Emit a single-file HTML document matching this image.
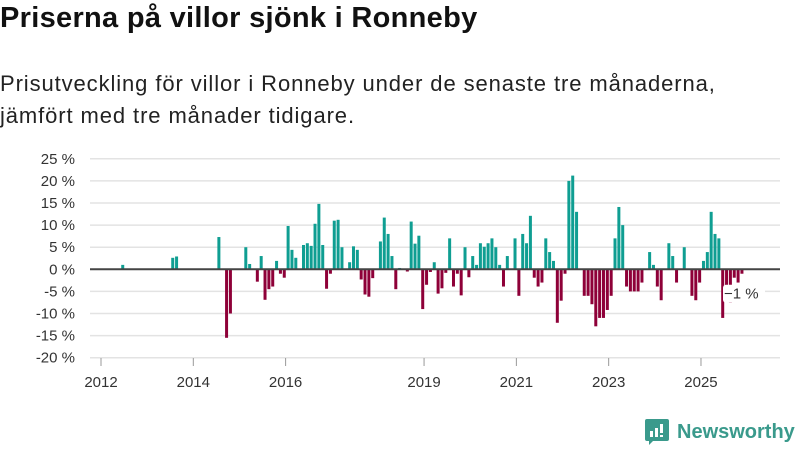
<!DOCTYPE html>
<html><head><meta charset="utf-8">
<style>
body{margin:0;width:800px;height:450px;background:#fff;font-family:"Liberation Sans",sans-serif;overflow:hidden;position:relative}
h1{position:absolute;left:0;top:2px;margin:0;font-size:29px;font-weight:bold;color:#111;letter-spacing:0.3px}
.sub{position:absolute;left:0;top:68px;margin:0;font-size:22px;line-height:32px;color:#222;letter-spacing:0.9px}
svg{position:absolute;left:0;top:0}
.logo{position:absolute;left:645px;top:419px;display:flex;align-items:center;gap:8px}
.logo span{font-size:20px;font-weight:bold;color:#3a9a8c}
</style></head><body>
<h1>Priserna på villor sjönk i Ronneby</h1>
<p class="sub">Prisutveckling för villor i Ronneby under de senaste tre månaderna,<br>jämfört med tre månader tidigare.</p>
<svg id="chart" width="800" height="450"></svg>
<div class="logo">
<svg width="24" height="26" viewBox="0 0 24 26" style="position:static"><path d="M0 2 Q0 0 2 0 H22 Q24 0 24 2 V20 Q24 22 22 22 H8 L4 26 V22 H2 Q0 22 0 20Z" fill="#3a9a8c"/><rect x="5" y="12" width="3" height="6" fill="#fff"/><rect x="10" y="9" width="3" height="9" fill="#fff"/><rect x="15" y="5" width="3" height="9" fill="#fff"/><rect x="15" y="16" width="3" height="2" fill="#fff"/></svg>
<span>Newsworthy</span></div>
<script>
// months since Jan 2012
const months=[5,18,19,30,32,33,37,38,40,41,42,43,44,45,46,47,48,49,50,52,53,54,55,56,57,58,59,60,61,62,64,65,66,67,68,69,70,72,73,74,75,76,77,79,80,81,82,83,84,85,86,87,88,89,90,91,92,93,94,95,96,97,98,99,100,101,102,103,104,105,107,108,109,110,111,112,113,114,115,116,117,118,119,120,121,122,123,125,126,127,128,129,130,131,132,133,134,135,136,137,138,139,140,142,143,144,145,147,148,149,151,153,154,155,156,157,158,159,160,161,162,163,164,165,166];
const values=[1,2.6,2.9,7.3,-15.5,-10,5,1.2,-2.8,3,-6.9,-4.5,-3.9,1.9,-1,-1.9,9.8,4.4,2.6,5.5,5.9,5.3,10.3,14.8,5.5,-4.4,-1,11,11.2,5,1.6,5.2,4.4,-2.3,-5.7,-6.2,-2,6.3,11.7,8,3,-4.5,0.3,-0.5,10.8,5.8,7.6,-9,-3.5,-0.6,1.6,-5.5,-4.3,-0.8,7,-3.9,-1,-5.9,5,-1.8,3,1,5.9,5.1,5.9,7,5,1,-3.9,3,7,-6,8,5.9,12.1,-1.9,-3.9,-3,7,3.9,1.9,-12.1,-7.1,-1,20,21.2,13,-6,-6,-7.9,-12.9,-11,-11,-9.2,-6,7,14.1,10,-3.9,-5,-5,-5,-3,3.9,1,-3.9,-7,5.9,3,-3,5,-6,-7,-3,1.9,3.9,13,8,7,-11,-3.9,-7.6,-1.9,-3,-1];
const yTicks=[25,20,15,10,5,0,-5,-10,-15,-20];
const xTickYears=[2012,2014,2016,2019,2021,2023,2025];
const NS="http://www.w3.org/2000/svg";
const svg=document.getElementById('chart');
const y=v=>269.3-v*4.42;
const x=m=>101+m*3.846;
function mk(t,a){const e=document.createElementNS(NS,t);for(const k in a)e.setAttribute(k,a[k]);svg.appendChild(e);return e;}
yTicks.forEach(v=>{
  if(v!==0){const g=mk('line',{x1:90,x2:780,y1:y(v),y2:y(v),stroke:'#e3e3e3','stroke-width':1.5});
  
  }
  const t=mk('text',{x:75,y:y(v)+5,'text-anchor':'end','font-size':15,fill:'#333','font-family':'Liberation Sans, sans-serif'});
  t.textContent=(v<0?'-':'')+Math.abs(v)+' %';
  
  
});
xTickYears.forEach(yr=>{
  const px=x((yr-2012)*12);
  const l=mk('line',{x1:px,x2:px,y1:358,y2:366,stroke:'#999'});
  
  
  const t=mk('text',{x:px,y:387,'text-anchor':'middle','font-size':15,fill:'#333','font-family':'Liberation Sans, sans-serif'});
  t.textContent=yr;
  
  
});
months.forEach((m,i)=>{
  const v=values[i];
  const r=mk('rect',{x:x(m)+1,width:3,y:Math.min(y(v),y(0)),height:Math.abs(y(v)-y(0)),fill:v>=0?'#0f9e92':'#8e0038'});
  
  
});
const z=mk('line',{x1:90,x2:780,y1:y(0),y2:y(0),stroke:'#444','stroke-width':2});


const lm=months[months.length-1],lv=values[values.length-1];
const bg=mk('rect',{x:723,y:y(lv)+11,width:42,height:18,rx:3,fill:'#fff'});


const lab=mk('text',{x:724,y:y(lv)+25,'font-size':15,fill:'#333','font-family':'Liberation Sans, sans-serif'});
lab.textContent='−'+Math.abs(lv)+' %';


</script>
</body></html>
